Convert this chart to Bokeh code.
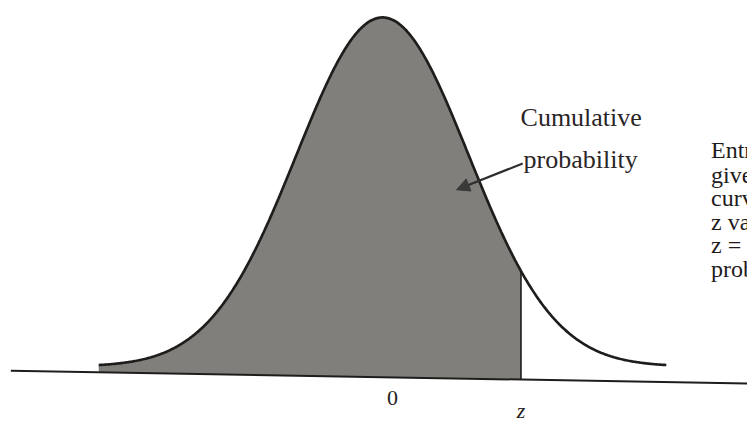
import numpy as np
from bokeh.plotting import figure
from bokeh.models import Range1d, Arrow, NormalHead
from bokeh.core.properties import value
from bokeh.embed import file_html
from bokeh.resources import INLINE

# ---- data ----
z_value = 1.61               # position of the z marker (standard units)
curve_left, curve_right = -3.3, 3.3
axis_left_level, axis_right_level = -0.0046, -0.0194   # axis line (photo is slightly tilted)
tick_labels = ["0", "z"]
tick_positions = [0.0, z_value]
callout_lines = ["Cumulative", "probability"]
note_lines = [
    "Entries in this table",
    "give the area under the",
    "curve to the left of the",
    "z value. For example, for",
    "z = \u2212.85, the cumulative",
    "probability is .1977.",
]

# annotation anchors (data units)
callout_x = [1.605, 1.64]
callout_y = [0.2846, 0.2366]
note_x = 3.82
note_y = [0.2469, 0.2194, 0.1931, 0.1657, 0.1394, 0.1120]
arrow_from = (1.63, 0.2320)
arrow_to = (0.86, 0.2020)

X0, X1 = -4.442, 4.244
Y0, Y1 = -0.0651, 0.4183


def pdf(x):
    return np.exp(-0.5 * np.asarray(x) ** 2) / np.sqrt(2 * np.pi)


def axis_level(x):
    t = (np.asarray(x) - X0) / (X1 - X0)
    return axis_left_level + t * (axis_right_level - axis_left_level)


xs = np.linspace(curve_left, curve_right, 500)
ys = pdf(xs)
fx = np.append(xs[xs <= z_value], z_value)
fy = pdf(fx)

W, H = 747, 423
p = figure(width=W, height=H, output_backend="svg", toolbar_location=None,
           x_range=Range1d(X0, X1), y_range=Range1d(Y0, Y1),
           min_border=0, background_fill_color="white", border_fill_color="white")
p.axis.visible = False
p.grid.visible = False
p.outline_line_color = None

ink = "#1f1d1c"
shade = "#817f7b"

# shaded cumulative area
p.varea(x=fx, y1=axis_level(fx), y2=fy, fill_color=shade)
# axis line
ax = np.array([X0 + 0.12, X1])
p.line(x=ax, y=axis_level(ax), line_color=ink, line_width=2)
# normal curve
p.line(x=xs, y=ys, line_color=ink, line_width=2.7)
# z marker
p.segment(x0=[z_value], y0=[float(axis_level(z_value))], x1=[z_value], y1=[float(pdf(z_value))],
          line_color=ink, line_width=1.6)

# tick labels
p.text(x=[tick_positions[0]], y=[-0.0354], text=[tick_labels[0]],
       text_font=value("Liberation Serif"), text_font_size="22px",
       text_align="center", text_baseline="middle", text_color=ink, x_offset=10)
p.text(x=[tick_positions[1]], y=[-0.0503], text=[tick_labels[1]],
       text_font=value("Liberation Serif"), text_font_size="22px", text_font_style="italic",
       text_align="center", text_baseline="middle", text_color=ink, x_offset=0)

# callout
p.text(x=callout_x, y=callout_y, text=callout_lines,
       text_font=value("Liberation Serif"), text_font_size="26px",
       text_align="left", text_baseline="middle", text_color="#2a2526")
p.add_layout(Arrow(end=NormalHead(size=13, fill_color="#3a3a3a", line_color="#3a3a3a"),
                   x_start=arrow_from[0], y_start=arrow_from[1],
                   x_end=arrow_to[0], y_end=arrow_to[1],
                   line_color="#2e2e2e", line_width=2.2))

# explanatory note (runs off the right edge, as in the reference)
p.text(x=[note_x] * len(note_lines), y=note_y, text=note_lines,
       text_font=value("Liberation Serif"), text_font_size="24px",
       text_align="left", text_baseline="middle", text_color="#1e1b1c")

open("out.html", "w").write(file_html(p, INLINE))
